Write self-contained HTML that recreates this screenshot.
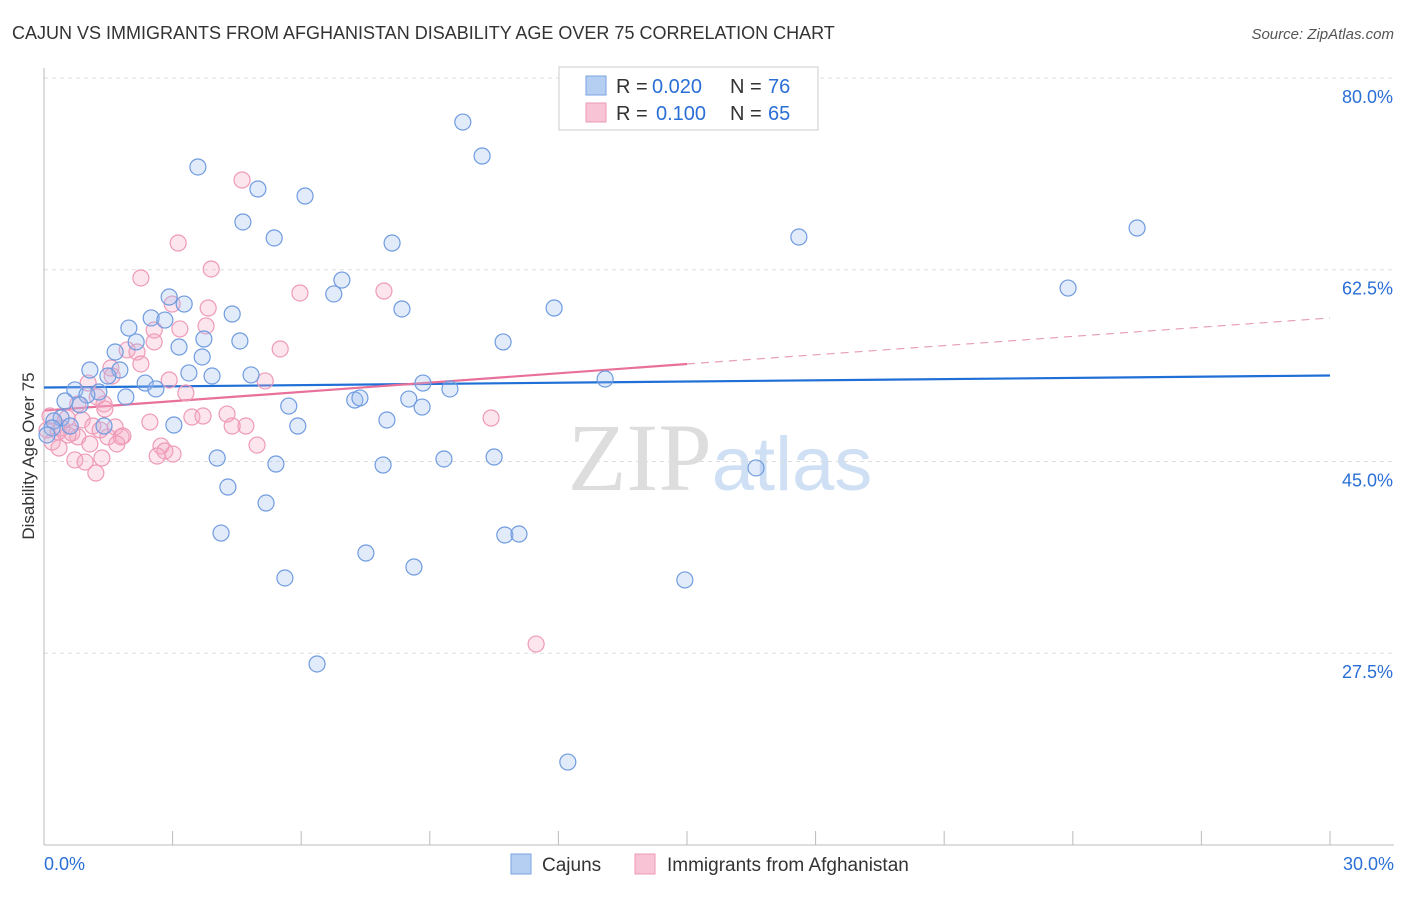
<!DOCTYPE html>
<html><head><meta charset="utf-8"><style>
body{margin:0;background:#fff;font-family:"Liberation Sans",sans-serif}
</style></head><body>
<svg id="chart" width="1406" height="892" xmlns="http://www.w3.org/2000/svg" font-family="Liberation Sans, sans-serif">
<text x="12" y="39" font-size="18" fill="#333">CAJUN VS IMMIGRANTS FROM AFGHANISTAN DISABILITY AGE OVER 75 CORRELATION CHART</text>
<text x="1394" y="39" font-size="15" fill="#555" text-anchor="end" font-style="italic">Source: ZipAtlas.com</text>
<text x="720" y="490" font-size="96" fill="#ddd" text-anchor="middle" font-family="Liberation Serif, serif">ZIP<tspan fill="#cfe0f5" font-family="Liberation Sans, sans-serif" font-size="76">atlas</tspan></text>
<text transform="translate(34,456) rotate(-90)" font-size="17" fill="#333" text-anchor="middle">Disability Age Over 75</text>
<g id="grid"></g><g id="axes"></g><g id="lines"></g><g id="pts"></g>
<g>
<rect x="559" y="67" width="259" height="63" fill="#fff" stroke="#ccc"/>
<rect x="586" y="76" width="20" height="19" fill="#b5cff3" stroke="#7aa3e0"/>
<rect x="586" y="103" width="20" height="19" fill="#f8c3d4" stroke="#ec9ab6"/>
<text x="616" y="93" font-size="20" fill="#333">R =</text>
<text x="652" y="93" font-size="20" fill="#2a6fd6">0.020</text>
<text x="730" y="93" font-size="20" fill="#333">N =</text>
<text x="768" y="93" font-size="20" fill="#2a6fd6">76</text>
<text x="616" y="120" font-size="20" fill="#333">R =</text>
<text x="656" y="120" font-size="20" fill="#2a6fd6">0.100</text>
<text x="730" y="120" font-size="20" fill="#333">N =</text>
<text x="768" y="120" font-size="20" fill="#2a6fd6">65</text>
</g>
<g>
<rect x="511" y="854" width="20" height="20" fill="#b5cff3" stroke="#7aa3e0"/>
<text x="542" y="871" font-size="19" fill="#333">Cajuns</text>
<rect x="635" y="854" width="20" height="20" fill="#f8c3d4" stroke="#ec9ab6"/>
<text x="667" y="871" font-size="19" fill="#333">Immigrants from Afghanistan</text>
</g>
</svg>
<script>
const yTicks=[80,62.5,45,27.5];
const xTickLabels=["0.0%","30.0%"];
const cajunX=[3.59,9.77,10.22,4.99,6.09,4.64,5.37,8.12,17.61,25.5,23.89,6.95,6.76,2.92,3.27,8.35,11.9,4.39,2.5,2.82,1.98,3.73,4.57,2.15,3.15,10.71,1.66,3.69,1.07,3.38,1.77,3.92,4.83,1.49,13.09,2.36,8.84,9.47,0.72,2.61,1.28,1.0,0.49,1.91,7.25,7.37,8.51,5.71,8.82,0.84,0.4,0.23,8.0,5.92,3.03,1.4,0.61,0.19,4.04,5.41,7.91,9.33,10.5,16.61,4.29,5.18,4.13,10.75,11.08,7.51,8.63,5.62,14.95,6.37,12.22,0.07];
const cajunY=[71.88,75.98,72.88,69.87,69.23,66.86,65.4,64.94,65.49,66.31,60.83,61.56,60.29,60.01,59.37,58.92,59.01,58.46,58.1,57.91,57.18,56.18,56.0,55.91,55.45,55.91,54.99,54.54,53.35,53.08,53.35,52.8,52.9,52.8,52.53,52.16,52.16,51.62,51.53,51.62,51.34,51.07,50.52,50.89,50.61,50.8,50.7,50.06,49.97,50.16,48.97,48.7,48.79,48.24,48.33,48.24,48.24,48.06,45.32,44.77,44.68,45.23,45.41,44.41,42.67,41.21,38.47,38.29,38.38,36.65,35.37,34.37,34.19,26.52,17.57,47.42];
const afgX=[4.62,3.13,2.26,3.9,5.97,7.93,3.83,2.99,3.78,3.17,2.57,5.51,1.94,2.17,2.57,2.26,1.56,1.59,2.92,1.03,5.16,3.31,1.24,1.4,0.79,3.45,3.71,4.27,4.71,4.39,2.47,10.43,1.42,0.54,0.89,1.14,1.66,1.8,0.07,0.33,0.65,0.79,1.49,1.84,0.19,1.7,0.35,1.07,4.97,2.73,2.82,3.01,2.64,0.72,1.35,0.96,1.21,11.48,0.14,0.42,1.31,0.56];
const afgY=[70.69,64.94,61.75,62.57,60.38,60.56,59.01,59.37,57.37,57.1,57.0,55.27,55.18,54.99,55.91,53.9,53.53,52.8,52.44,52.16,52.35,51.25,50.89,50.25,50.25,49.06,49.15,49.33,48.24,48.24,48.6,48.97,49.79,48.97,48.79,48.24,48.15,47.24,47.88,47.7,47.6,47.24,47.24,47.33,46.78,46.6,46.23,46.6,46.5,46.41,45.96,45.68,45.5,45.14,45.32,44.95,43.95,28.34,49.15,48.06,47.88,47.42];
const cajunTrend=[51.75,52.85];
const afgTrend=[49.65,53.9,58.1];

const NS="http://www.w3.org/2000/svg";
const X0=44,X1=1330,YTOP=78,PX=10.957;
const sx=v=>X0+(X1-X0)*v/30;
const sy=v=>YTOP+(80-v)*PX;
function mk(tag,attrs,parent){const e=document.createElementNS(NS,tag);for(const k in attrs)e.setAttribute(k,attrs[k]);document.getElementById(parent).appendChild(e);return e;}

yTicks.forEach(t=>{
  const g=mk('line',{x1:X0,x2:1394,y1:sy(t),y2:sy(t),stroke:'#ddd','stroke-dasharray':'4,4'},'grid');
  
  
  const l=mk('text',{x:1393,y:sy(t)+25,'font-size':18,fill:'#2a6fd6','text-anchor':'end'},'grid');
  l.textContent=t.toFixed(1)+'%';
  
  
});
const ax=mk('line',{x1:X0,x2:X0,y1:68,y2:sy(10),stroke:'#bbb'},'axes');


const bx=mk('line',{x1:X0,x2:1394,y1:sy(10),y2:sy(10),stroke:'#bbb'},'axes');


for(let i=1;i<=10;i++){
  const t=mk('line',{x1:sx(i*3),x2:sx(i*3),y1:sy(10)-14,y2:sy(10),stroke:'#bbb'},'axes');
  
  
}
[[0,'start',44],[30,'end',1394]].forEach((p,i)=>{
  const l=mk('text',{x:p[2],y:870,'font-size':18,fill:'#2a6fd6','text-anchor':p[1]},'axes');
  l.textContent=xTickLabels[i];
  
  
});
function dots(xs,ys,fill,stroke,name){
  xs.forEach((x,i)=>{
    const c=mk('circle',{cx:sx(x),cy:sy(ys[i]),r:8,fill:fill,stroke:stroke,'stroke-width':1.2},'pts');
    
    
  });
}
dots(afgX,afgY,'rgba(245,170,195,0.3)','#ee9ab8','afghanistan-point');
dots(cajunX,cajunY,'rgba(160,190,240,0.3)','#6f9be0','cajun-point');
const cl=mk('line',{x1:sx(0),x2:sx(30),y1:sy(cajunTrend[0]),y2:sy(cajunTrend[1]),stroke:'#1f6fd6','stroke-width':2.2},'lines');


const pl=mk('line',{x1:sx(0),x2:sx(15),y1:sy(afgTrend[0]),y2:sy(afgTrend[1]),stroke:'#e8709a','stroke-width':2.2},'lines');


const pd=mk('line',{x1:sx(15),x2:sx(30),y1:sy(afgTrend[1]),y2:sy(afgTrend[2]),stroke:'#e8a0b8','stroke-width':1.2,'stroke-dasharray':'8,6'},'lines');


</script>
</body></html>
